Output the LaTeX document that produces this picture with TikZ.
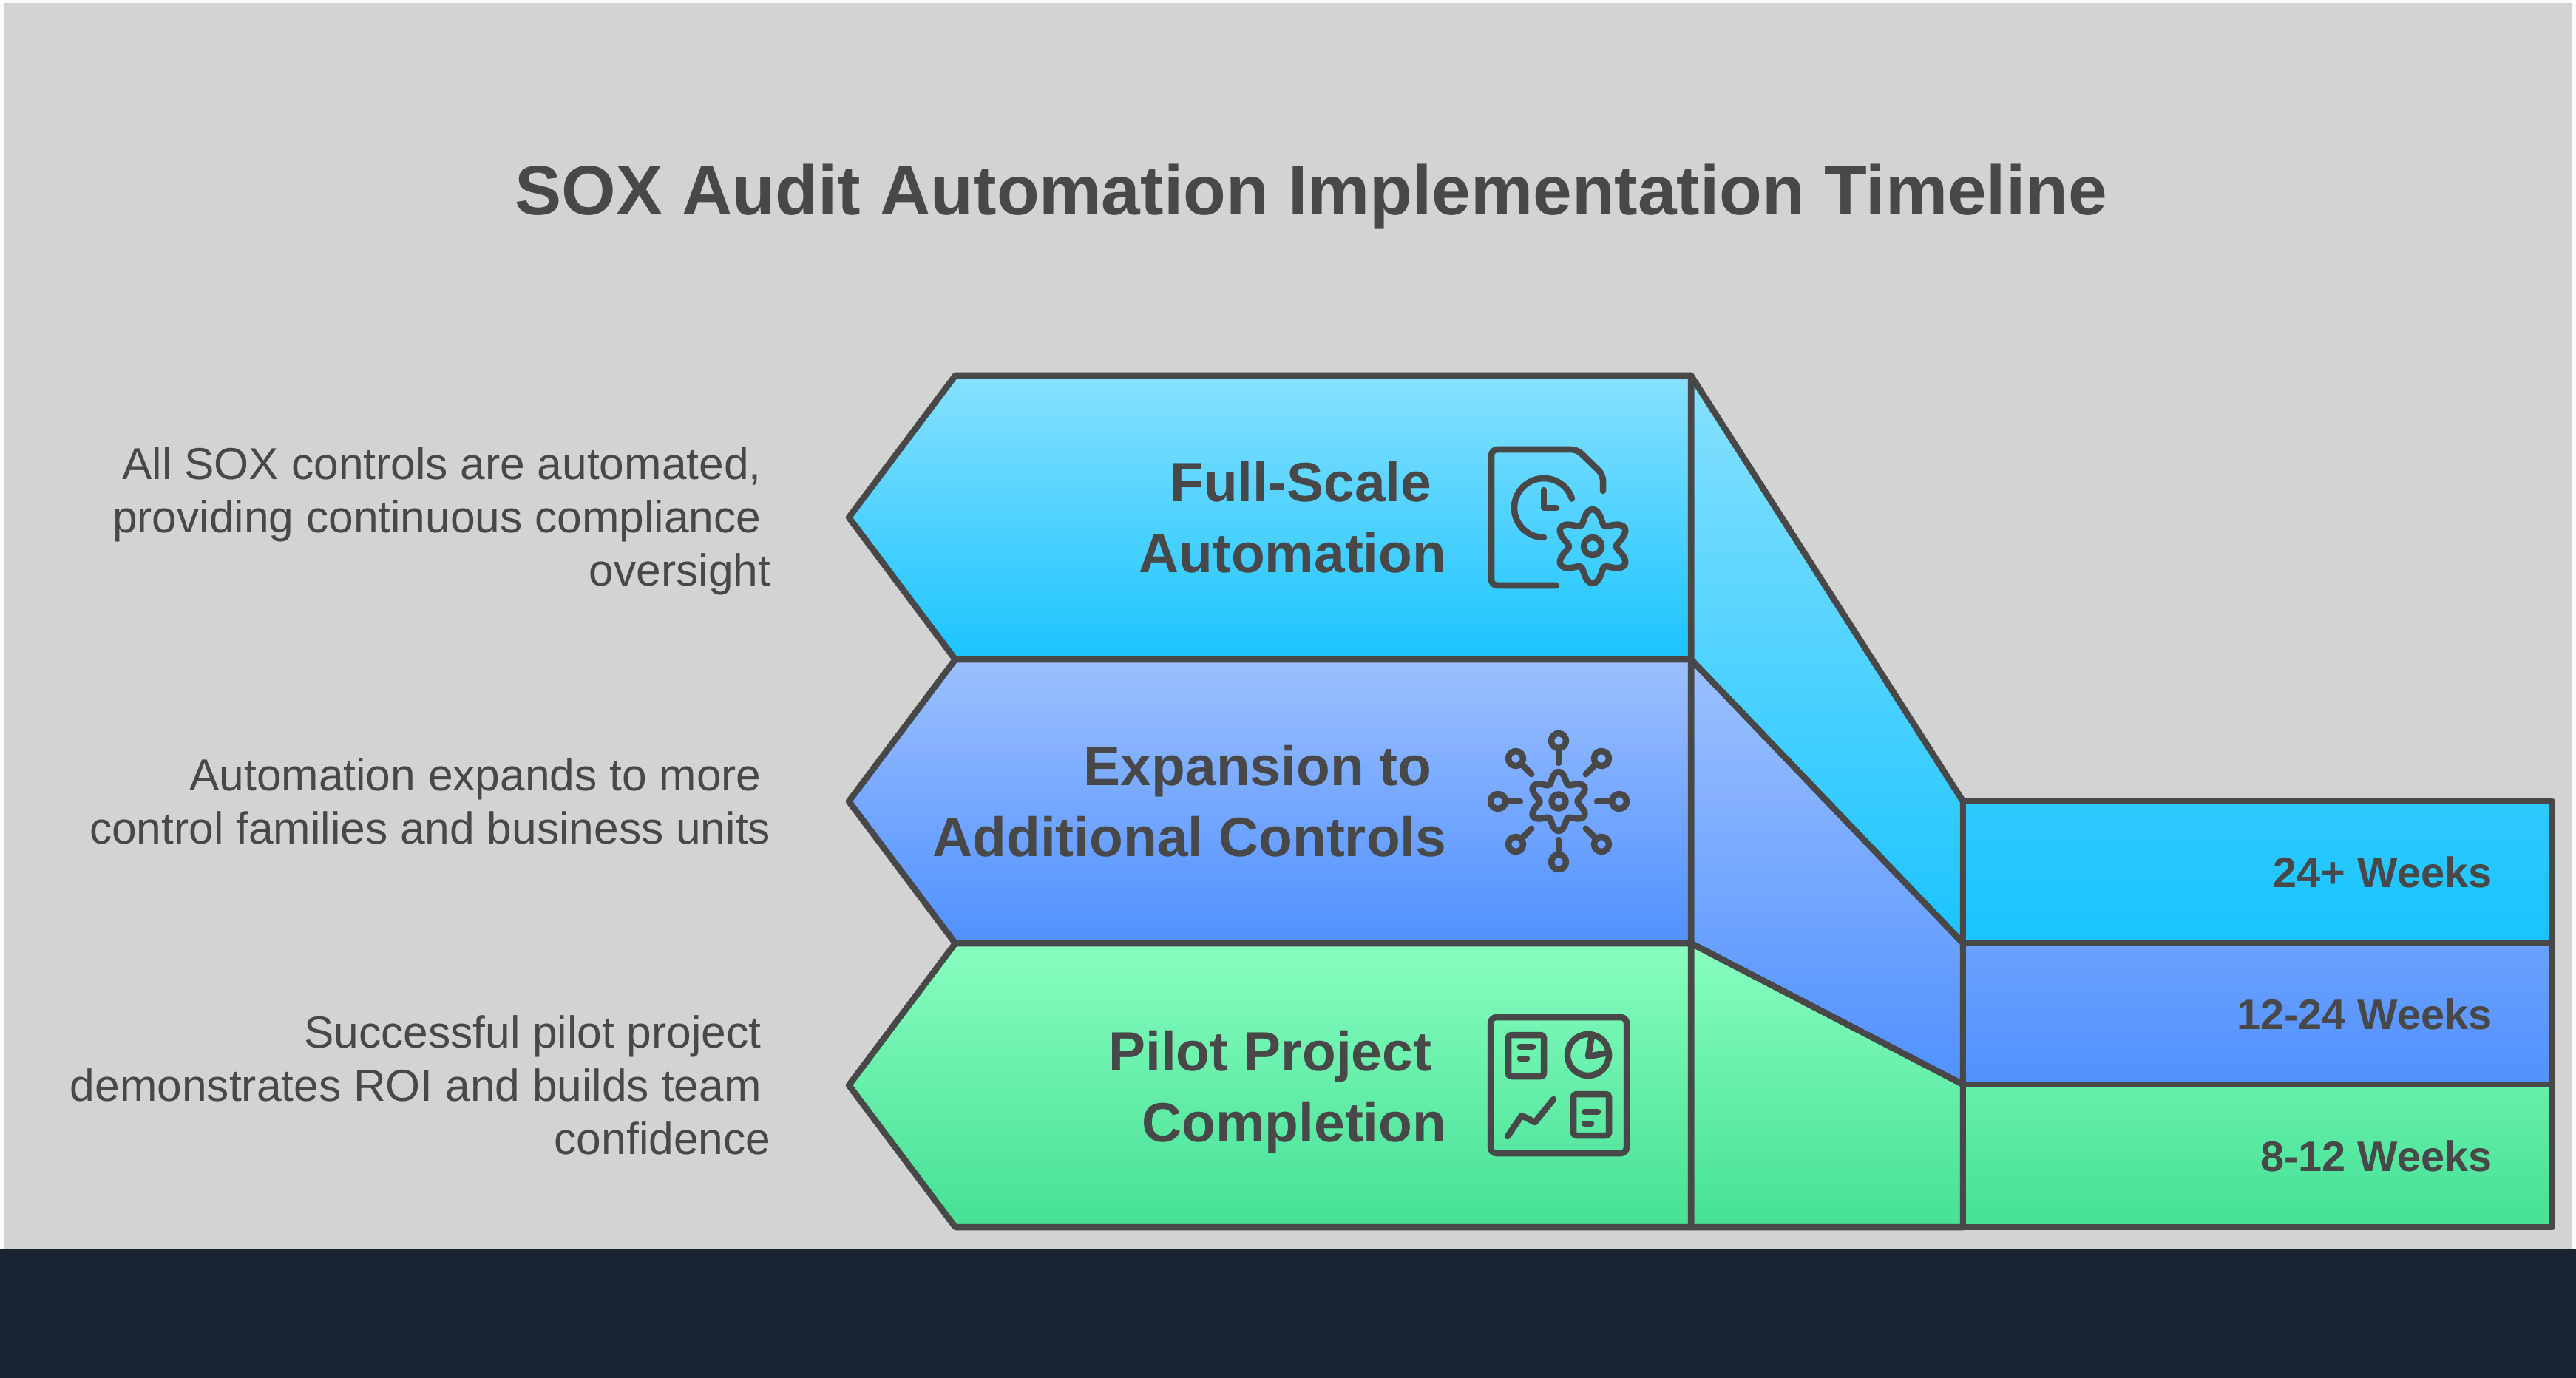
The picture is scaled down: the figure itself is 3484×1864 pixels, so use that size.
\documentclass[tikz,border=0pt]{standalone}
\usepackage{fontspec}
\setmainfont{Liberation Sans}
\usetikzlibrary{positioning,calc}
\definecolor{inkgray}{HTML}{484848}
\definecolor{pagegray}{HTML}{D3D3D3}
\definecolor{footnavy}{HTML}{1A2332}
\definecolor{cyantop}{HTML}{87E0FF}
\definecolor{cyanbot}{HTML}{1AC4FF}
\definecolor{bluetop}{HTML}{9CC0FF}
\definecolor{bluebot}{HTML}{5090FF}
\definecolor{greentop}{HTML}{88FDC0}
\definecolor{greenbot}{HTML}{45E096}
\tikzset{
    outline/.style={draw=inkgray, line width=0.085cm, line join=round},
    cyanband/.style={outline, top color=cyantop, bottom color=cyanbot},
    blueband/.style={outline, top color=bluetop, bottom color=bluebot},
    greenband/.style={outline, top color=greentop, bottom color=greenbot},
    glyph/.style={draw=inkgray, line width=0.085cm, line cap=round, line join=round},
    headline/.style={text=inkgray, font=\bfseries\fontsize{26.9}{31}\selectfont, inner sep=0pt},
    stage/.style={text=inkgray, font=\bfseries\fontsize{21.3}{27.2}\selectfont, align=right, anchor=east, inner sep=0pt},
    note/.style={text=inkgray, font=\fontsize{17.2}{20.4}\selectfont, align=right, anchor=east, inner sep=0pt},
    span/.style={text=inkgray, font=\bfseries\fontsize{16.4}{20}\selectfont, anchor=east, inner sep=0pt}
}
\newcommand{\trail}{\hbox{\kern3.6pt}}
\newcommand{\stagetrail}{\hbox{\kern5.7pt}}
% six lobed gear: centre x, centre y, scale
\newcommand{\gearglyph}[3]{
    \draw[glyph, shift={(#1,#2)}] plot[domain=0:360, samples=97, smooth] (\x:{(41-9*cos(6*\x))*#3}) -- cycle;
}
\begin{document}
\begin{tikzpicture}[x=0.01cm, y=-0.01cm]
    \useasboundingbox (0,0) rectangle (3484,1864);
    \fill[white!97!gray] (0,0) rectangle (3484,1864);
    \fill[pagegray] (6,4) rectangle (3478,1689);
    \fill[footnavy] (0,1689) rectangle (3484,1864);

    \node[headline] (title) at (1773,266) {SOX Audit Automation Implementation Timeline};

    % slanted links first, the bands sit on top of them
    \path[cyanband] (2287,508) -- (2655,1084) -- (2655,1276) -- (2287,892) -- cycle;
    \path[blueband] (2287,892) -- (2655,1276) -- (2655,1467) -- (2287,1276) -- cycle;
    \path[greenband] (2287,1276) -- (2655,1467) -- (2655,1660) -- (2287,1660) -- cycle;

    \path[cyanband] (1148,700) -- (1292,508) -- (2287,508) -- (2287,892) -- (1292,892) -- cycle;
    \path[blueband] (1148,1084) -- (1292,892) -- (2287,892) -- (2287,1276) -- (1292,1276) -- cycle;
    \path[greenband] (1148,1468) -- (1292,1276) -- (2287,1276) -- (2287,1660) -- (1292,1660) -- cycle;

    \path[outline, top color=cyanbot!82!cyantop, bottom color=cyanbot] (2655,1084) rectangle (3452,1276);
    \path[outline, top color=bluebot!65!bluetop, bottom color=bluebot] (2655,1276) rectangle (3452,1467);
    \path[outline, top color=greenbot!50!greentop, bottom color=greenbot] (2655,1467) rectangle (3452,1660);

    \node[stage] (full) at (1957,700) {Full-Scale\stagetrail\\Automation};
    \node[stage] (expansion) at (1957,1084) {Expansion to\stagetrail\\Additional Controls};
    \node[stage] (pilot) at (1957,1477) {Pilot Project\stagetrail\\Completion};

    \node[note] (fullnote) at (1043,705) {All SOX controls are automated,\trail\\providing continuous compliance\trail\\oversight};
    \node[note] (expansionnote) at (1043,1084) {Automation expands to more\trail\\control families and business units};
    \node[note] (pilotnote) at (1043,1468) {Successful pilot project\trail\\demonstrates ROI and builds team\trail\\confidence};

    \node[span] (weeksa) at (3371,1180) {24+ Weeks};
    \node[span] (weeksb) at (3371,1372) {12-24 Weeks};
    \node[span] (weeksc) at (3371,1564) {8-12 Weeks};

    % document with clock and gear
    \draw[glyph, rounded corners=2.3pt] (2105,792) -- (2017,792) -- (2017,608) -- (2133,608) -- (2168,642) -- (2168,664);
    \draw[glyph] (2088,727) arc[start angle=90, end angle=342, radius=40];
    \draw[glyph] (2088,663) -- (2088,687) -- (2105,687);
    \gearglyph{2154}{739}{1}
    \draw[glyph] (2154,739) circle[radius=12];

    % gear with spokes
    \gearglyph{2108}{1084}{0.8}
    \draw[glyph] (2108,1084) circle[radius=9.5];
    \foreach \ang in {0,45,...,315} {
        \draw[glyph] ($(2108,1084)+(\ang:52)$) -- ($(2108,1084)+(\ang:72)$);
        \draw[glyph] ($(2108,1084)+(\ang:82)$) circle[radius=10];
    }

    % board with charts
    \draw[glyph, rounded corners=2.3pt] (2016,1376) rectangle (2200,1560);
    \draw[glyph, rounded corners=1.1pt] (2040,1400) rectangle (2088,1456);
    \draw[glyph] (2056,1416) -- (2073,1416) (2056,1432) -- (2065,1432);
    \draw[glyph] (2148,1427) circle[radius=28];
    \draw[glyph] (2153,1400) -- (2148,1429) -- (2175,1424);
    \draw[glyph] (2039,1537) -- (2058,1509) -- (2076,1518) -- (2101,1487);
    \draw[glyph, rounded corners=1.1pt] (2128,1480) rectangle (2176,1536);
    \draw[glyph] (2143,1504) -- (2161,1504) (2143,1520) -- (2152,1520);
\end{tikzpicture}
\end{document}
